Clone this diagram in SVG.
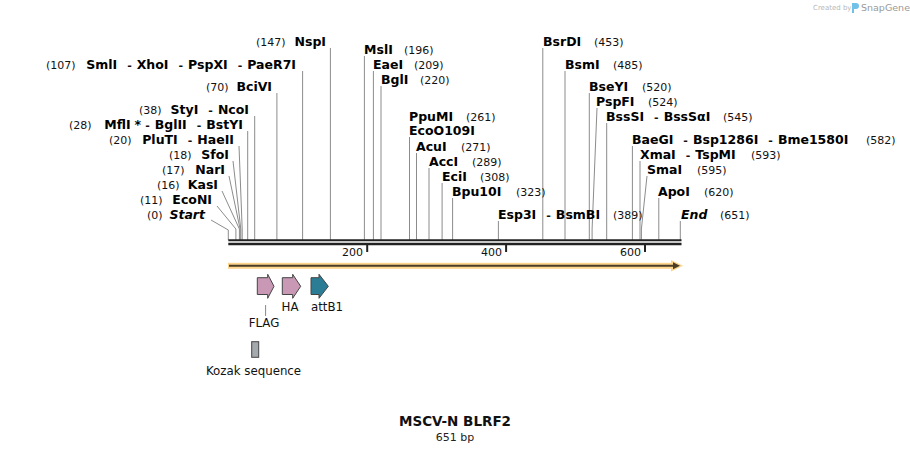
<svg xmlns="http://www.w3.org/2000/svg" width="910" height="452" viewBox="0 0 910 452">
<style>
.e{font-family:"DejaVu Sans",Verdana,sans-serif;font-weight:bold;font-size:12.5px;fill:#000}
.n{font-family:"DejaVu Sans",Verdana,sans-serif;font-size:11px;fill:#111}
.s{font-family:"DejaVu Sans",Verdana,sans-serif;font-size:11px;fill:#111}
.f{font-family:"DejaVu Sans",Verdana,sans-serif;font-size:11.8px;fill:#111}
.l{stroke:#8c8c8c;stroke-width:1;fill:none}
.bb{stroke:#222;fill:none}
.feat{stroke:#444;stroke-width:1}
</style>
<rect width="910" height="452" fill="#fff"/>

<g id="watermark">
<text x="813" y="10" style="font-family:'DejaVu Sans',sans-serif;font-size:7px;fill:#b8b8b8">Created by</text>
<path d="M852 3h4a3 3 0 0 1 0 6h-2v4h-2z" fill="#6fc1e8"/>
<text x="861" y="11" style="font-family:'DejaVu Sans',sans-serif;font-size:9.5px;fill:#9a9a9a">SnapGene</text>
</g>

<g id="connectors">
<!-- left -->
<line class="l" x1="330.4" y1="48" x2="330.4" y2="240"/>
<line class="l" x1="302.6" y1="71" x2="302.6" y2="240"/>
<line class="l" x1="276.9" y1="93" x2="276.9" y2="240"/>
<line class="l" x1="254.7" y1="116" x2="254.7" y2="240"/>
<line class="l" x1="247.7" y1="131" x2="247.7" y2="240"/>
<polyline class="l" points="239,146 242.2,229 242.2,240"/>
<polyline class="l" points="233,161 240.8,229 240.8,240"/>
<polyline class="l" points="229,176 240.1,229 240.1,240"/>
<polyline class="l" points="222,191 239.4,229 239.4,240"/>
<polyline class="l" points="217,206 235.9,229 235.9,240"/>
<polyline class="l" points="211,220 228.3,230 228.3,240"/>
<!-- right -->
<line class="l" x1="542.8" y1="48" x2="542.8" y2="240"/>
<line class="l" x1="364.4" y1="56" x2="364.4" y2="240"/>
<line class="l" x1="373.4" y1="71" x2="373.4" y2="240"/>
<line class="l" x1="565" y1="71" x2="565" y2="240"/>
<line class="l" x1="381" y1="86" x2="381" y2="240"/>
<line class="l" x1="589.3" y1="93" x2="589.3" y2="240"/>
<polyline class="l" points="597,108 592.1,229 592.1,240"/>
<line class="l" x1="606.7" y1="123" x2="606.7" y2="240"/>
<line class="l" x1="409.5" y1="137" x2="409.5" y2="240"/>
<line class="l" x1="632.4" y1="146" x2="632.4" y2="240"/>
<line class="l" x1="416.5" y1="153" x2="416.5" y2="240"/>
<line class="l" x1="640" y1="161" x2="640" y2="240"/>
<line class="l" x1="429" y1="168" x2="429" y2="240"/>
<polyline class="l" points="647,176 641.4,229 641.4,240"/>
<line class="l" x1="442.1" y1="183" x2="442.1" y2="240"/>
<line class="l" x1="452.6" y1="198" x2="452.6" y2="240"/>
<line class="l" x1="658.8" y1="198" x2="658.8" y2="240"/>
<line class="l" x1="498.4" y1="221" x2="498.4" y2="240"/>
<line class="l" x1="680.3" y1="221" x2="680.3" y2="240"/>
<line x1="265.6" y1="305" x2="265.6" y2="316" stroke="#888" stroke-width="1"/>
</g>

<g id="backbone">
<line class="bb" x1="228.3" y1="240.2" x2="681.5" y2="240.2" stroke-width="2"/>
<line class="bb" x1="228.3" y1="244" x2="681.5" y2="244" stroke-width="2.6"/>
<line class="bb" x1="367.2" y1="245" x2="367.2" y2="252" stroke-width="2"/>
<line class="bb" x1="506.1" y1="245" x2="506.1" y2="252" stroke-width="2"/>
<line class="bb" x1="645" y1="245" x2="645" y2="252" stroke-width="2"/>
<text class="s" x="363" y="256" text-anchor="end">200</text>
<text class="s" x="502" y="256" text-anchor="end">400</text>
<text class="s" x="641" y="256" text-anchor="end">600</text>
</g>

<g id="orf">
<rect x="228" y="262.8" width="446" height="6" fill="#fcd48c"/>
<polygon points="671,260 683,265.8 671,271.6" fill="#fcd48c"/>
<line x1="229" y1="265.8" x2="674" y2="265.8" stroke="#4a3d28" stroke-width="2"/>
<polygon points="673,262.3 680,265.8 673,269.3" fill="#4a3d28"/>
</g>

<g id="FLAG">
<path class="feat" d="M257.3 277.7H267.7V274.3L274 286.3L267.7 298.3V294.5H257.3Z" fill="#c898b4"/>
<text class="f" x="264" y="327" text-anchor="middle">FLAG</text>
</g>
<g id="HA">
<path class="feat" d="M282.3 277.7H292.7V274.3L300.7 286.3L292.7 298.3V294.5H282.3Z" fill="#c898b4"/>
<text class="f" x="290" y="311" text-anchor="middle">HA</text>
</g>
<g id="attB1">
<path class="feat" d="M311 277.7H319V274.3L328.3 286.3L319 298.3V294.5H311Z" fill="#2b7d95"/>
<text class="f" x="327" y="311" text-anchor="middle">attB1</text>
</g>
<g id="Kozak">
<rect class="feat" x="251.7" y="341.7" width="7" height="15.6" fill="#a4a9ae"/>
<text class="f" x="253.5" y="375" text-anchor="middle">Kozak sequence</text>
</g>

<g id="left-labels">
<g id="NspI"><text class="n" x="256" y="46">(147)</text><text class="e" x="326" y="46" text-anchor="end">NspI</text></g>
<g id="SmlI"><text class="n" x="46" y="69">(107)</text><text class="e" x="296" y="69" text-anchor="end">SmlI<tspan class="n" dx="10">-</tspan><tspan dx="5">XhoI</tspan><tspan class="n" dx="10">-</tspan><tspan dx="5">PspXI</tspan><tspan class="n" dx="10">-</tspan><tspan dx="5">PaeR7I</tspan></text></g>
<g id="BciVI"><text class="n" x="206" y="91">(70)</text><text class="e" x="272" y="91" text-anchor="end">BciVI</text></g>
<g id="StyI"><text class="n" x="139" y="114">(38)</text><text class="e" x="249" y="114" text-anchor="end">StyI<tspan class="n" dx="10">-</tspan><tspan dx="5">NcoI</tspan></text></g>
<g id="MflI"><text class="n" x="69" y="129">(28)</text><text class="e" x="243" y="129" text-anchor="end">MflI<tspan dx="4">*</tspan><tspan class="n" dx="4">-</tspan><tspan dx="5">BglII</tspan><tspan class="n" dx="10">-</tspan><tspan dx="5">BstYI</tspan></text></g>
<g id="PluTI"><text class="n" x="109" y="144">(20)</text><text class="e" x="234" y="144" text-anchor="end">PluTI<tspan class="n" dx="10">-</tspan><tspan dx="5">HaeII</tspan></text></g>
<g id="SfoI"><text class="n" x="169" y="159">(18)</text><text class="e" x="229" y="159" text-anchor="end">SfoI</text></g>
<g id="NarI"><text class="n" x="162" y="174">(17)</text><text class="e" x="225" y="174" text-anchor="end">NarI</text></g>
<g id="KasI"><text class="n" x="157" y="189">(16)</text><text class="e" x="218" y="189" text-anchor="end">KasI</text></g>
<g id="EcoNI"><text class="n" x="140" y="204">(11)</text><text class="e" x="212" y="204" text-anchor="end">EcoNI</text></g>
<g id="Start"><text class="n" x="147" y="219">(0)</text><text class="e" x="205" y="219" text-anchor="end" font-style="italic">Start</text></g>
</g>

<g id="right-labels">
<g id="BsrDI"><text class="e" x="543" y="46">BsrDI</text><text class="n" x="594" y="46">(453)</text></g>
<g id="MslI"><text class="e" x="364" y="54">MslI</text><text class="n" x="404" y="54">(196)</text></g>
<g id="EaeI"><text class="e" x="373" y="69">EaeI</text><text class="n" x="414" y="69">(209)</text></g>
<g id="BsmI"><text class="e" x="565" y="69">BsmI</text><text class="n" x="613" y="69">(485)</text></g>
<g id="BglI"><text class="e" x="381" y="84">BglI</text><text class="n" x="420" y="84">(220)</text></g>
<g id="BseYI"><text class="e" x="589" y="91">BseYI</text><text class="n" x="642" y="91">(520)</text></g>
<g id="PspFI"><text class="e" x="596" y="106">PspFI</text><text class="n" x="648" y="106">(524)</text></g>
<g id="BssSI"><text class="e" x="606" y="121">BssSI<tspan class="n" dx="10">-</tspan><tspan dx="5">BssSαI</tspan></text><text class="n" x="723" y="121">(545)</text></g>
<g id="PpuMI"><text class="e" x="409" y="121">PpuMI</text><text class="n" x="466" y="121">(261)</text><text class="e" x="409" y="135">EcoO109I</text></g>
<g id="BaeGI"><text class="e" x="632" y="144">BaeGI<tspan class="n" dx="10">-</tspan><tspan dx="5">Bsp1286I</tspan><tspan class="n" dx="10">-</tspan><tspan dx="5">Bme1580I</tspan></text><text class="n" x="866" y="144">(582)</text></g>
<g id="AcuI"><text class="e" x="416" y="151">AcuI</text><text class="n" x="461" y="151">(271)</text></g>
<g id="XmaI"><text class="e" x="640" y="159">XmaI<tspan class="n" dx="10">-</tspan><tspan dx="5">TspMI</tspan></text><text class="n" x="751" y="159">(593)</text></g>
<g id="AccI"><text class="e" x="429" y="166">AccI</text><text class="n" x="472" y="166">(289)</text></g>
<g id="SmaI"><text class="e" x="647" y="174">SmaI</text><text class="n" x="697" y="174">(595)</text></g>
<g id="EciI"><text class="e" x="442" y="181">EciI</text><text class="n" x="480" y="181">(308)</text></g>
<g id="Bpu10I"><text class="e" x="452" y="196">Bpu10I</text><text class="n" x="516" y="196">(323)</text></g>
<g id="ApoI"><text class="e" x="658" y="196">ApoI</text><text class="n" x="704" y="196">(620)</text></g>
<g id="Esp3I"><text class="e" x="498" y="219">Esp3I<tspan class="n" dx="10">-</tspan><tspan dx="5">BsmBI</tspan></text><text class="n" x="613" y="219">(389)</text></g>
<g id="End"><text class="e" x="681" y="219" font-style="italic">End</text><text class="n" x="720" y="219">(651)</text></g>
</g>

<g id="title">
<text x="455" y="426" text-anchor="middle" style="font-family:'DejaVu Sans',Verdana,sans-serif;font-weight:bold;font-size:13.5px;fill:#111">MSCV-N BLRF2</text>
<text x="455" y="441" text-anchor="middle" style="font-family:'DejaVu Sans',Verdana,sans-serif;font-size:11px;fill:#222">651 bp</text>
</g>
</svg>
